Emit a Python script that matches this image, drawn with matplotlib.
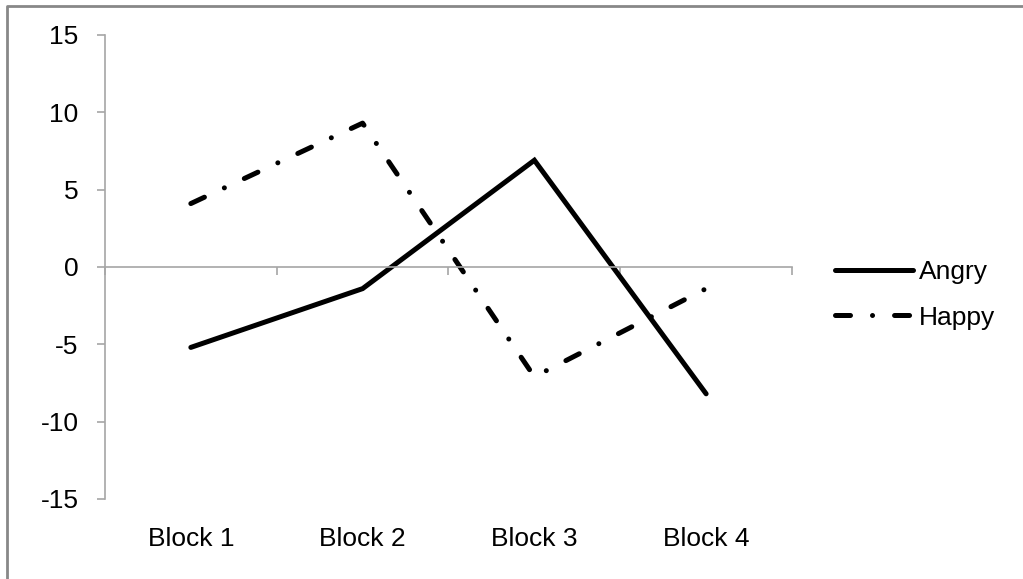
import numpy as np
import matplotlib as mpl
mpl.use("Agg")
import matplotlib.pyplot as plt
from matplotlib.lines import Line2D

categories = ["Block 1", "Block 2", "Block 3", "Block 4"]
angry = [-5.2, -1.4, 6.9, -8.2]
happy = [4.1, 9.3, -7.1, -1.4]
y_ticks = [-15, -10, -5, 0, 5, 10, 15]

mpl.rcParams['font.family'] = ['Liberation Sans', 'DejaVu Sans']
mpl.rcParams['axes.unicode_minus'] = False
label_fontsize = 19
axis_grey = '#a6a6a6'

fig = plt.figure(figsize=(10.23, 5.79), dpi=100)
ax = fig.add_axes([0.1026, 0.1382, 0.6716, 0.8014])

x = np.arange(len(categories))
ax.plot(x, angry, color='black', linewidth=3.6, label='Angry',
        solid_joinstyle='miter', solid_capstyle='round')
ax.plot(x, happy, color='black', linewidth=3.6, label='Happy',
        dashes=(3.0, 4.4, 0.01, 4.4), dash_capstyle='round')

ax.set_xlim(-0.5, len(categories) - 0.5)
ax.set_ylim(-15, 15)
ax.set_yticks(y_ticks)
ax.set_yticklabels([str(t) for t in y_ticks])
ax.set_xticks(np.arange(len(categories) + 1) - 0.5)
ax.set_xticklabels([])

for side in ['top', 'right']:
    ax.spines[side].set_visible(False)
ax.spines['bottom'].set_position(('data', 0))
for side in ['left', 'bottom']:
    ax.spines[side].set_color(axis_grey)
    ax.spines[side].set_linewidth(1.2)

ax.tick_params(axis='y', direction='out', length=6, width=1.2,
               color=axis_grey, labelsize=label_fontsize, pad=13)
ax.tick_params(axis='x', direction='out', length=6, width=1.2,
               color=axis_grey)

for i, cat in enumerate(categories):
    ax.text(i, -0.06, cat, transform=ax.get_xaxis_transform(),
            ha='center', va='top', fontsize=label_fontsize)

ax.legend(loc='center left', bbox_to_anchor=(0.816, 0.4905),
          bbox_transform=fig.transFigure, frameon=False,
          fontsize=label_fontsize, handlelength=2.95, handletextpad=0.23,
          labelspacing=0.8, borderpad=0, borderaxespad=0)

# outer frame: only left and top edges are visible in the original
fig.add_artist(Line2D([6.5 / 1023, 6.5 / 1023, 1.0], [0.0, 1 - 5.5 / 579, 1 - 5.5 / 579],
                      transform=fig.transFigure, color='#888888', linewidth=2))

fig.savefig('out.png', dpi=100)
